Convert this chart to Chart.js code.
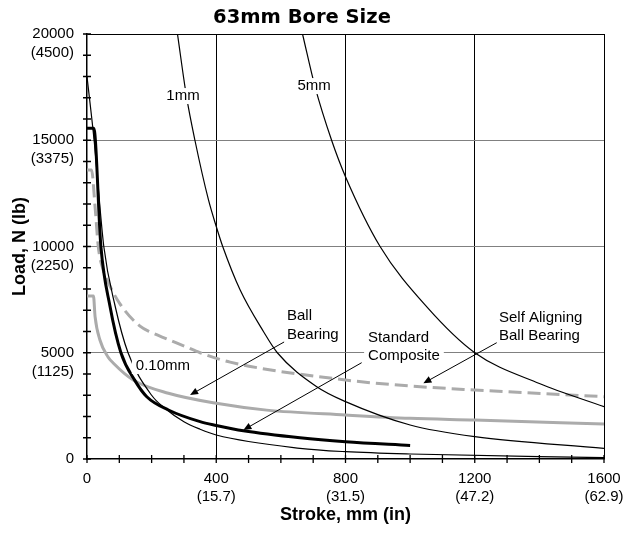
<!DOCTYPE html>
<html>
<head>
<meta charset="utf-8">
<title>63mm Bore Size</title>
<script src="https://cdn.jsdelivr.net/npm/chart.js@4.4.1/dist/chart.umd.min.js"></script>
<style>
  body { margin: 0; background: #fff; }
</style>
</head>
<body>
<canvas id="boreChart" width="636" height="536"></canvas>
<script>
// values: stroke in mm, load in N
const strokeTicks = [0, 400, 800, 1200, 1600];
const strokeInches = ['', '(15.7)', '(31.5)', '(47.2)', '(62.9)'];
const loadTicks = [0, 5000, 10000, 15000, 20000];
const loadPounds = ['', '(1125)', '(2250)', '(3375)', '(4500)'];

// deflection limit curves
const defl010Stroke = [0, 22, 52, 87, 127, 200, 241, 300, 350, 400, 659, 800, 1000, 1600];
const defl010Load = [18000, 15000, 10000, 7200, 5000, 3000, 2385, 1750, 1400, 1130, 503, 345, 235, 60];
const defl1Stroke = [280, 308, 334, 376, 400, 420, 474, 546, 589, 711, 800, 1000, 1200, 1600];
const defl1Load = [20000, 17050, 15000, 12190, 10940, 10000, 7950, 6000, 5000, 3400, 2700, 1600, 1050, 500];
const defl5Stroke = [667, 706, 757, 800, 907, 1051, 1200, 1400, 1600];
const defl5Load = [20000, 17500, 15000, 13285, 10000, 7167, 5000, 3550, 2461];

// bearing curves
const compositeStroke = [0, 21, 43, 71, 105, 148, 185, 252, 350, 400, 484, 659, 800, 1000];
const compositeLoad = [15560, 15560, 10000, 7200, 5000, 3700, 2930, 2306, 1757, 1580, 1330, 1000, 816, 640];
const ballStroke = [0, 20, 25, 40, 65, 81, 143, 252, 400, 556, 800, 1000, 1200, 1600];
const ballLoad = [7670, 7670, 6700, 5600, 4800, 4520, 3718, 3092, 2620, 2300, 2070, 1913, 1835, 1647];
const selfAlignStroke = [0, 14, 25, 35, 50, 66, 102, 164, 200, 247, 303, 350, 443, 800, 1000, 1200, 1600];
const selfAlignLoad = [13600, 13600, 11870, 9990, 8900, 8300, 7300, 6250, 5950, 5650, 5300, 5000, 4560, 3718, 3435, 3247, 2932];

const FONT = '"Liberation Sans", Arial, sans-serif';
const GREY = '#ababab';

function points(xs, ys) {
    return xs.map((x, i) => ({ x: x, y: ys[i] }));
}

function curve(label, xs, ys, color, width, dash) {
    return {
        label: label,
        data: points(xs, ys),
        borderColor: color,
        borderWidth: width,
        borderDash: dash || [],
        pointRadius: 0,
        cubicInterpolationMode: 'monotone',
        fill: false
    };
}

// annotation texts and arrows, placed in data units
const notes = [
    { lines: ['1mm'], x: 297, y: 17080, align: 'center', clear: true },
    { lines: ['5mm'], x: 703, y: 17550, align: 'center', clear: true },
    { lines: ['0.10mm'], x: 235, y: 4376, align: 'center', clear: true },
    { lines: ['Ball', 'Bearing'], x: 619, y: 6729, align: 'left', clear: false },
    { lines: ['Standard', 'Composite'], x: 870, y: 5718, align: 'left', clear: true },
    { lines: ['Self Aligning', 'Ball Bearing'], x: 1275, y: 6659, align: 'left', clear: false }
];
const arrows = [
    { from: [610, 5506], to: [319, 3012] },
    { from: [850, 4532], to: [484, 1365] },
    { from: [1268, 5473], to: [1041, 3562] }
];

const crossTicks = {
    id: 'crossTicks',
    afterDraw(chart) {
        const { ctx, scales: { x, y } } = chart;
        ctx.save();
        ctx.strokeStyle = '#000';
        ctx.lineWidth = 1.3;
        ctx.beginPath();
        x.ticks.forEach(t => {
            const px = x.getPixelForValue(t.value);
            ctx.moveTo(px, y.bottom - 4);
            ctx.lineTo(px, y.bottom + 4);
        });
        y.ticks.forEach(t => {
            const py = y.getPixelForValue(t.value);
            ctx.moveTo(x.left - 4, py);
            ctx.lineTo(x.left + 4, py);
        });
        ctx.stroke();
        ctx.restore();
    }
};

const callouts = {
    id: 'callouts',
    afterDatasetsDraw(chart) {
        const { ctx, scales: { x, y } } = chart;
        ctx.save();
        ctx.font = '15px ' + FONT;
        ctx.textBaseline = 'middle';
        const lh = 18.5;
        notes.forEach(n => {
            const px = x.getPixelForValue(n.x);
            const py = y.getPixelForValue(n.y);
            n.lines.forEach((line, i) => {
                const w = ctx.measureText(line).width;
                const left = n.align === 'center' ? px - w / 2 : px;
                const ly = py + i * lh;
                if (n.clear) {
                    ctx.fillStyle = '#fff';
                    ctx.fillRect(left - 4, ly - 8, w + 8, 16);
                }
                ctx.fillStyle = '#000';
                ctx.textAlign = 'left';
                ctx.fillText(line, left, ly);
            });
        });
        ctx.strokeStyle = '#000';
        ctx.fillStyle = '#000';
        ctx.lineWidth = 1;
        arrows.forEach(a => {
            const x0 = x.getPixelForValue(a.from[0]), y0 = y.getPixelForValue(a.from[1]);
            const x1 = x.getPixelForValue(a.to[0]), y1 = y.getPixelForValue(a.to[1]);
            const ang = Math.atan2(y1 - y0, x1 - x0);
            ctx.beginPath();
            ctx.moveTo(x0, y0);
            ctx.lineTo(x1 - 6 * Math.cos(ang), y1 - 6 * Math.sin(ang));
            ctx.stroke();
            ctx.beginPath();
            ctx.moveTo(x1, y1);
            ctx.lineTo(x1 - 8 * Math.cos(ang) + 3.5 * Math.sin(ang), y1 - 8 * Math.sin(ang) - 3.5 * Math.cos(ang));
            ctx.lineTo(x1 - 8 * Math.cos(ang) - 3.5 * Math.sin(ang), y1 - 8 * Math.sin(ang) + 3.5 * Math.cos(ang));
            ctx.closePath();
            ctx.fill();
        });
        ctx.restore();
    }
};

const ctx = document.getElementById('boreChart').getContext('2d');
new Chart(ctx, {
    type: 'line',
    data: {
        datasets: [
            curve('0.10mm', defl010Stroke, defl010Load, '#000', 1.2),
            curve('1mm', defl1Stroke, defl1Load, '#000', 1.2),
            curve('5mm', defl5Stroke, defl5Load, '#000', 1.2),
            curve('Standard Composite', compositeStroke, compositeLoad, '#000', 3),
            curve('Ball Bearing', ballStroke, ballLoad, GREY, 3),
            curve('Self Aligning Ball Bearing', selfAlignStroke, selfAlignLoad, GREY, 3, [13, 6])
        ]
    },
    options: {
        responsive: false,
        animation: false,
        devicePixelRatio: 1,
        layout: { padding: { top: 0, right: 32, bottom: 0, left: 0 } },
        plugins: {
            legend: { display: false },
            tooltip: { enabled: false },
            title: {
                display: true,
                text: '63mm Bore Size',
                color: '#000',
                font: { family: '"DejaVu Sans", sans-serif', size: 19.5, weight: 'bold', lineHeight: 1.2 },
                padding: { top: 6, bottom: 4.6 }
            }
        },
        scales: {
            x: {
                type: 'linear',
                min: 0,
                max: 1600,
                border: { display: true, color: '#000', width: 1.5 },
                grid: {
                    drawTicks: false,
                    lineWidth: 1,
                    color: c => (c.tick && c.tick.value > 0 && c.tick.value % 400 === 0) ? '#000' : 'rgba(0,0,0,0)'
                },
                ticks: {
                    stepSize: 100,
                    autoSkip: false,
                    maxRotation: 0,
                    minRotation: 0,
                    padding: 11,
                    color: '#000',
                    font: { family: FONT, size: 15, lineHeight: 1.2 },
                    callback: value => {
                        const i = strokeTicks.indexOf(value);
                        if (i < 0) return '';
                        return i === 0 ? '0' : [String(value), strokeInches[i]];
                    }
                },
                title: {
                    display: true,
                    text: 'Stroke, mm (in)',
                    color: '#000',
                    font: { family: FONT, size: 18, weight: 'bold', lineHeight: 1.2 },
                    padding: { top: 0, bottom: 10 }
                },
                afterFit: scale => {
                    scale.height = 77;
                    scale.paddingLeft = 0;
                    scale.paddingRight = 0;
                }
            },
            y: {
                type: 'linear',
                min: 0,
                max: 20000,
                border: { display: true, color: '#000', width: 1.5 },
                grid: {
                    drawTicks: false,
                    lineWidth: 1,
                    color: c => {
                        if (!c.tick) return 'rgba(0,0,0,0)';
                        if (c.tick.value === 20000) return '#000';
                        if (c.tick.value > 0 && c.tick.value % 5000 === 0) return '#808080';
                        return 'rgba(0,0,0,0)';
                    }
                },
                ticks: {
                    stepSize: 1000,
                    autoSkip: false,
                    padding: 13,
                    color: '#000',
                    font: { family: FONT, size: 15, lineHeight: 1.27 },
                    callback: value => {
                        const i = loadTicks.indexOf(value);
                        if (i < 0) return '';
                        return i === 0 ? ['', '0', ''] : ['', String(value), loadPounds[i]];
                    }
                },
                title: {
                    display: true,
                    text: 'Load, N (lb)',
                    color: '#000',
                    font: { family: FONT, size: 18, weight: 'bold', lineHeight: 1.2 },
                    padding: { top: 9, bottom: 0 }
                },
                afterFit: scale => {
                    scale.width = 87;
                    scale.paddingTop = 0;
                    scale.paddingBottom = 0;
                }
            }
        }
    },
    plugins: [crossTicks, callouts]
});
</script>
</body>
</html>
